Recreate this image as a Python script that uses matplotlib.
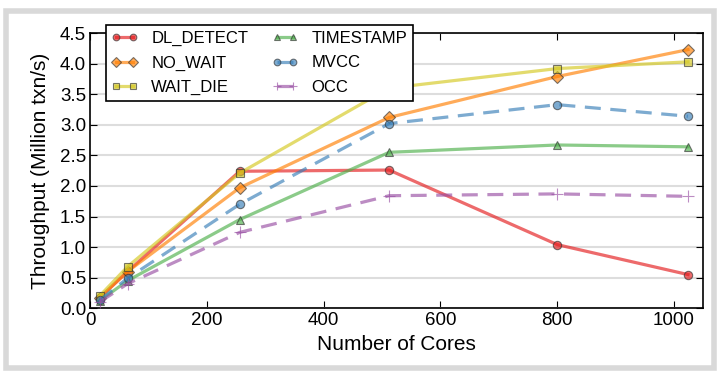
import matplotlib.pyplot as plt
from matplotlib.patches import Rectangle

plt.rcParams['font.family'] = ['Liberation Sans', 'DejaVu Sans']

# cores on the x axis
cores = [16, 64, 256, 512, 800, 1024]

# throughput in million txn/s
dl_detect = [0.17, 0.60, 2.24, 2.26, 1.04, 0.55]
no_wait = [0.17, 0.60, 1.97, 3.12, 3.79, 4.23]
wait_die = [0.20, 0.68, 2.21, 3.60, 3.92, 4.03]
timestamp = [0.12, 0.45, 1.45, 2.55, 2.67, 2.64]
mvcc = [0.13, 0.49, 1.70, 3.02, 3.33, 3.14]
occ = [0.10, 0.40, 1.24, 1.84, 1.87, 1.83]

series = [
    ('DL_DETECT', dl_detect, '#e41a1c', 'o', '-'),
    ('NO_WAIT', no_wait, '#ff7f00', 'D', '-'),
    ('WAIT_DIE', wait_die, '#d4c81f', 's', '-'),
    ('TIMESTAMP', timestamp, '#4daf4a', '^', '-'),
    ('MVCC', mvcc, '#377eb8', 'o', '--'),
    ('OCC', occ, '#984ea3', '+', '--'),
]

fig = plt.figure(figsize=(7.19, 3.72), dpi=100)
ax = fig.add_axes([0.1255, 0.1715, 0.8525, 0.7395])

for name, vals, col, mk, ls in series:
    ax.plot(cores, vals, color=col, linestyle=ls, linewidth=2.3, alpha=0.65,
            marker=mk, markersize=6 if mk != '+' else 8,
            markerfacecolor=col, markeredgecolor='#333333' if mk != '+' else col,
            markeredgewidth=0.8, label=name, dashes=(5, 3) if ls == '--' else (None, None),
            zorder=3)

ax.set_xlim(0, 1050)
ax.set_ylim(0, 4.5)
ax.set_xticks([0, 200, 400, 600, 800, 1000])
ax.set_yticks([0.0, 0.5, 1.0, 1.5, 2.0, 2.5, 3.0, 3.5, 4.0, 4.5])
ax.set_yticklabels(['%.1f' % v for v in ax.get_yticks()])
ax.yaxis.grid(True, color='#dddddd', linewidth=1.5, zorder=0)
ax.set_axisbelow(True)
ax.tick_params(direction='in', top=True, right=True, length=5, labelsize=13.5, pad=3)
for sp in ax.spines.values():
    sp.set_linewidth(1.2)

ax.set_xlabel('Number of Cores', fontsize=15, labelpad=4)
ax.set_ylabel('Throughput (Million txn/s)', fontsize=15, labelpad=7)

leg = ax.legend(ncol=2, loc='upper left', bbox_to_anchor=(0.025, 1.03), fontsize=12,
                numpoints=2, markerscale=0.8, handlelength=1.6, handletextpad=0.8,
                columnspacing=1.4, labelspacing=0.58, fancybox=False, framealpha=1,
                borderpad=0.35, borderaxespad=0)
leg.get_frame().set_edgecolor('black')
leg.get_frame().set_linewidth(1.2)
leg.set_zorder(5)

# grey frame around the figure
fig.patches.append(Rectangle((0.008, 0.012), 0.985, 0.958, transform=fig.transFigure,
                             fill=False, edgecolor='#d9d9d9', linewidth=4))

fig.savefig('out.png', dpi=100)
